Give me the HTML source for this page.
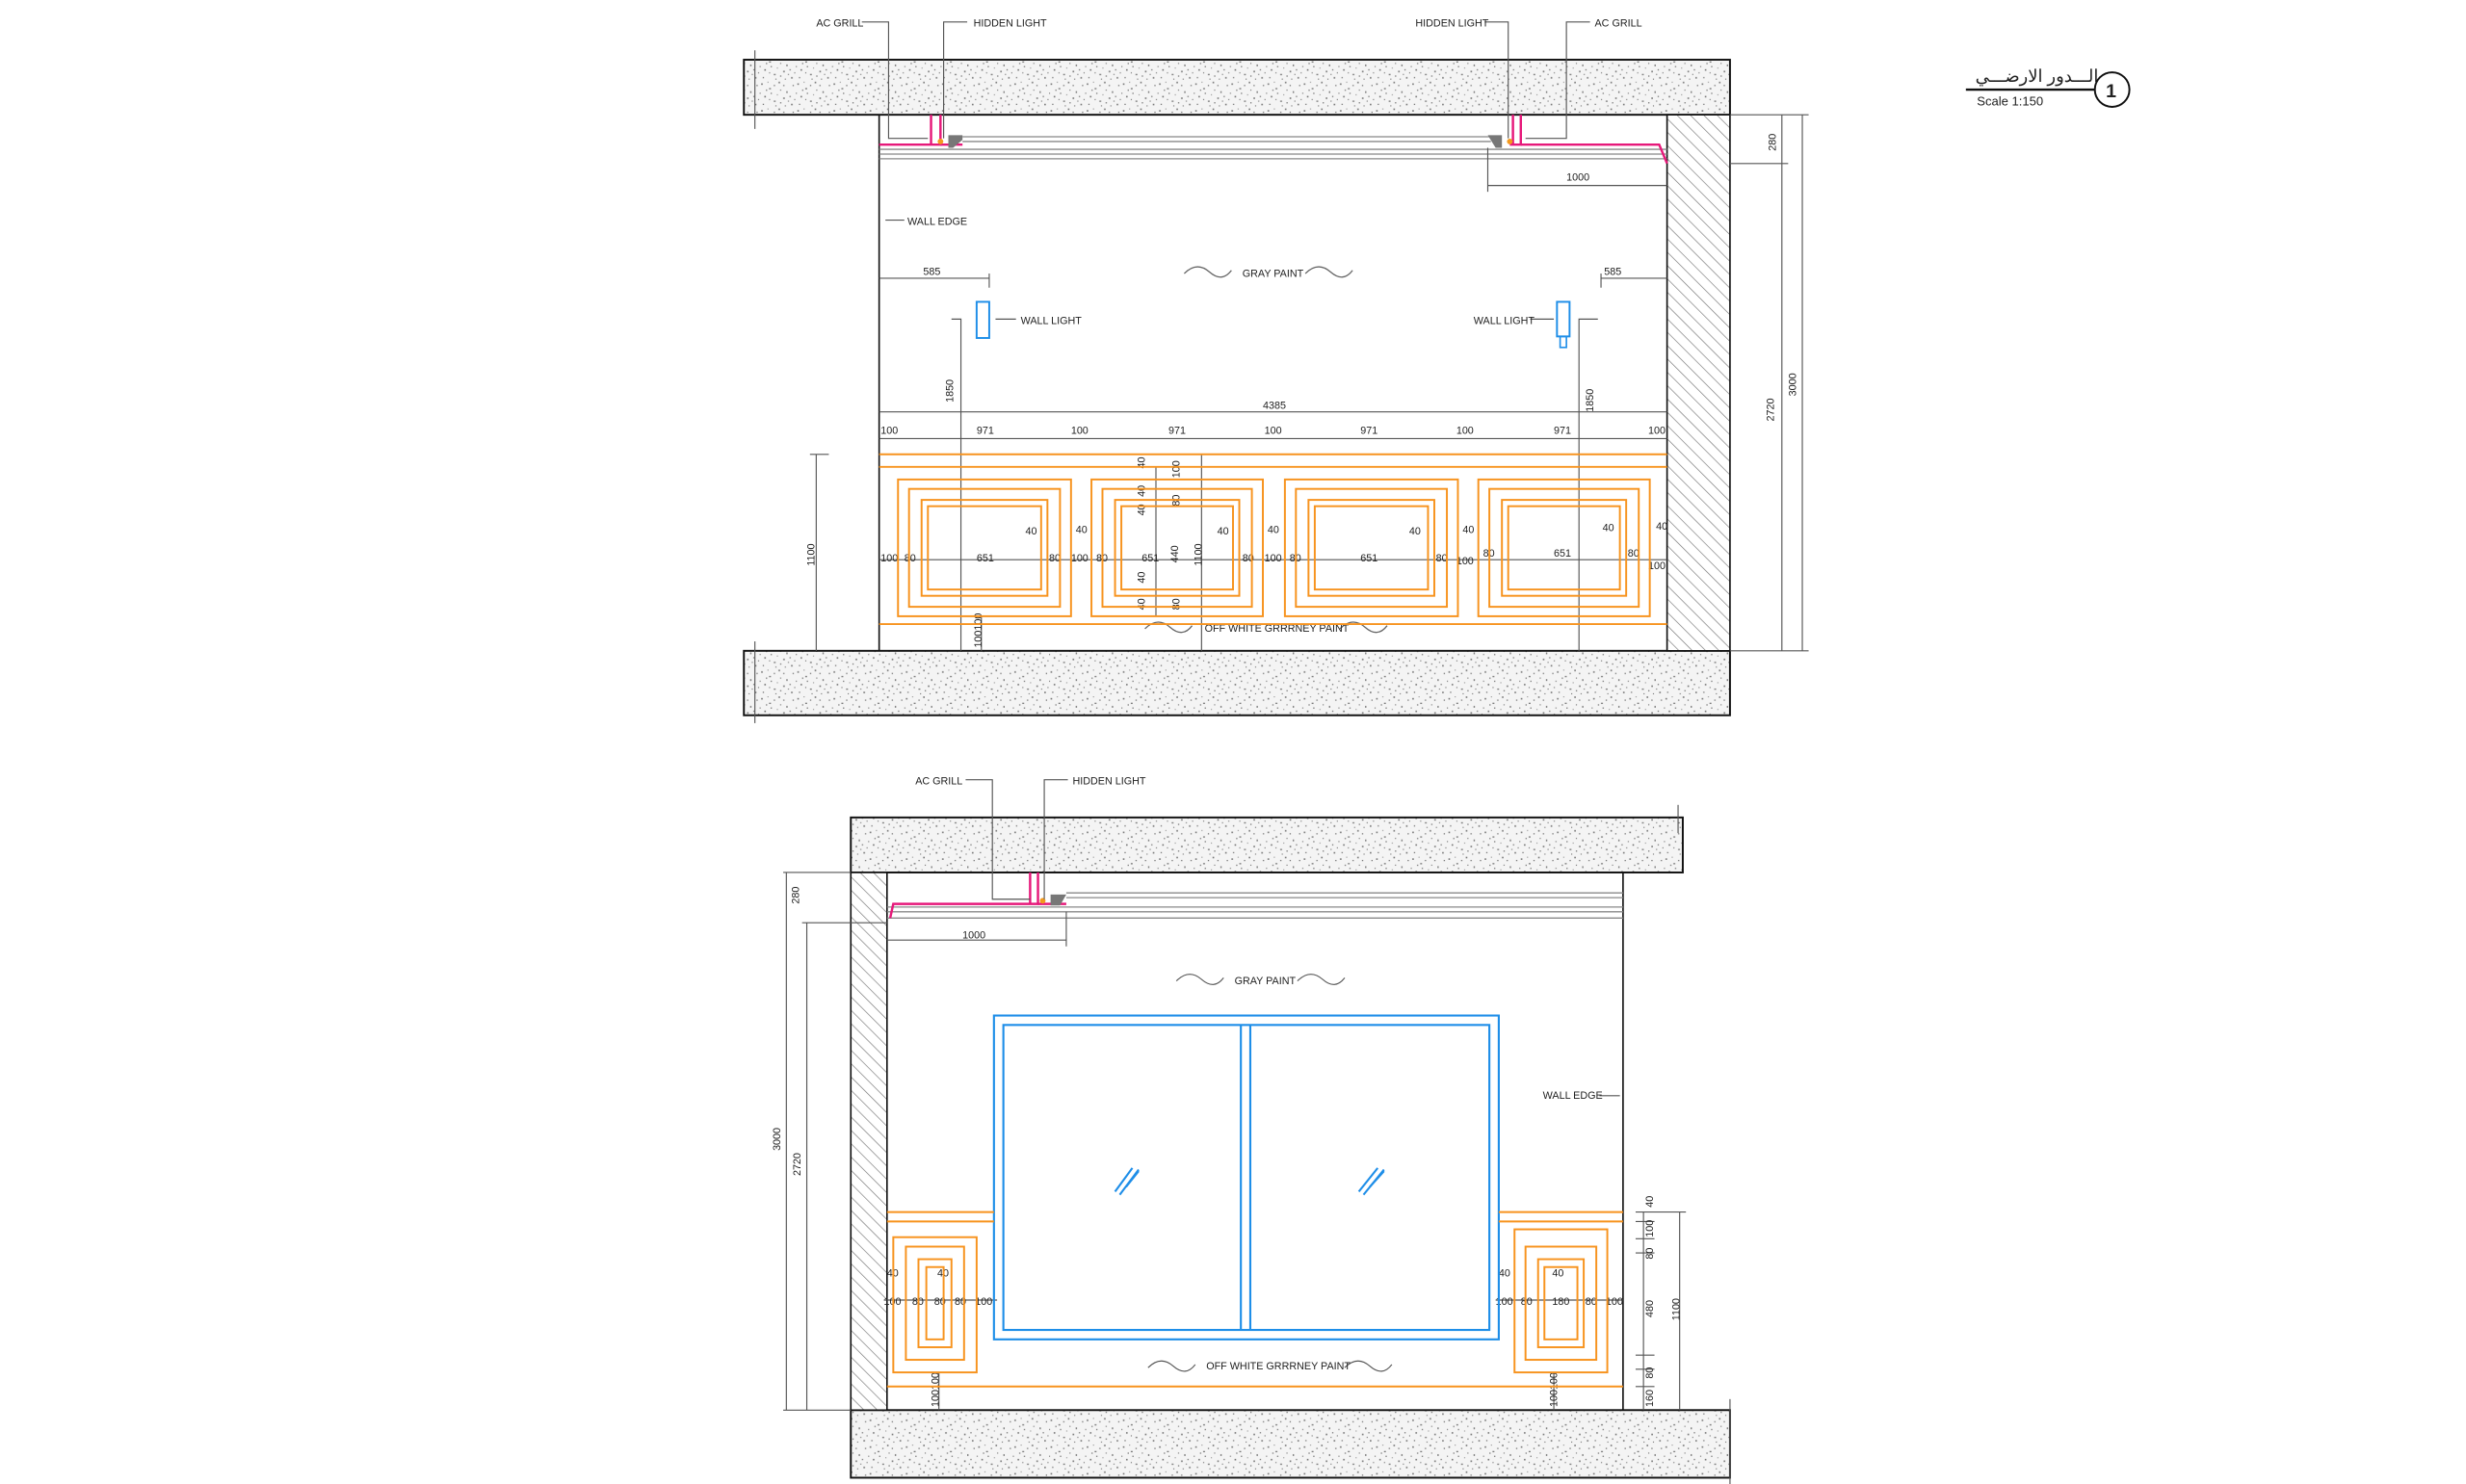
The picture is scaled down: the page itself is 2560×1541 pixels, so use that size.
<!DOCTYPE html>
<html><head><meta charset="utf-8"><style>
html,body{margin:0;padding:0;background:#fff;}
svg{display:block}
text{font-family:"Liberation Sans","Noto Sans CJK SC",sans-serif;fill:#222;font-size:6.6px;}
text.t{font-size:11px;}
text.s{font-size:8px;}
text.n{font-size:12px;font-weight:bold;}
</style></head><body>
<svg width="2560" height="1541" viewBox="0 0 1568 944" preserveAspectRatio="none" xmlns="http://www.w3.org/2000/svg">
<defs>
<pattern id="conc" width="23" height="17" patternUnits="userSpaceOnUse">
<rect width="23" height="17" fill="#f4f4f4"/>
<g fill="#777">
<rect x="1" y="2" width="1" height="1"/><rect x="6" y="5" width="1.2" height="0.8"/><rect x="12" y="1" width="1" height="1"/><rect x="17" y="7" width="0.8" height="1.2"/><rect x="3" y="10" width="1" height="1"/><rect x="9" y="13" width="1.2" height="0.8"/><rect x="15" y="11" width="1" height="1"/><rect x="20" y="15" width="1" height="1"/><rect x="21" y="3" width="0.8" height="0.8"/><rect x="7" y="8" width="0.8" height="0.8"/><rect x="13" y="6" width="0.7" height="0.7"/><rect x="2" y="15" width="0.8" height="0.8"/><rect x="11" y="9" width="0.6" height="0.6"/><rect x="18" y="13" width="0.7" height="0.7"/><rect x="5" y="1" width="0.6" height="0.6"/>
<rect x="9" y="3" width="0.8" height="0.8"/><rect x="15" y="3" width="0.8" height="0.8"/><rect x="19" y="10" width="0.8" height="0.8"/><rect x="4" y="6" width="0.8" height="0.8"/><rect x="0" y="8" width="0.7" height="0.7"/><rect x="13" y="14" width="0.8" height="0.8"/><rect x="6" y="12" width="0.7" height="0.7"/><rect x="16" y="16" width="0.7" height="0.7"/><rect x="22" y="12" width="0.7" height="0.7"/><rect x="10" y="16" width="0.7" height="0.7"/>
</g></pattern>
<pattern id="hatch" width="6" height="6" patternUnits="userSpaceOnUse" patternTransform="rotate(-45)">
<rect width="6" height="6" fill="#fff"/><line x1="0" y1="0" x2="0" y2="6" stroke="#777" stroke-width="0.8"/>
</pattern>
</defs>

<!-- ================= TOP ELEVATION ================= -->
<rect x="473" y="38" width="627" height="35" fill="url(#conc)" stroke="#111" stroke-width="1.2"/>
<rect x="473" y="414" width="627" height="41" fill="url(#conc)" stroke="#111" stroke-width="1.2"/>
<rect x="1060" y="73" width="40" height="341" fill="url(#hatch)" stroke="#111" stroke-width="1"/>
<line x1="559" y1="73" x2="559" y2="414" stroke="#111" stroke-width="1"/>
<g stroke="#888" stroke-width="0.8" fill="none">
<line x1="612" y1="87" x2="948" y2="87"/><line x1="612" y1="90" x2="948" y2="90"/>
<line x1="559" y1="95" x2="1060" y2="95"/><line x1="559" y1="98" x2="1060" y2="98"/><line x1="559" y1="101" x2="1060" y2="101"/>
</g>
<g stroke="#e6197a" stroke-width="1.5" fill="none">
<polyline points="559,92 598,92 598,73"/><line x1="592" y1="73" x2="592" y2="92"/>
<polyline points="612,92 598,92"/>
<polyline points="960,92 967,92 967,73"/><line x1="962" y1="73" x2="962" y2="92"/>
<polyline points="967,92 1055,92 1060,104"/>
</g>
<polygon points="603,86 612,86 612,89 606,94 603,94" fill="#777"/>
<polygon points="946,86 955,86 955,94 951,94" fill="#777"/>
<circle cx="598" cy="90" r="1.8" fill="#f39a1e"/><circle cx="960" cy="90" r="1.8" fill="#f39a1e"/>
<g stroke="#555" stroke-width="0.7" fill="none">
<polyline points="548,14 565,14 565,88 590,88"/>
<polyline points="615,14 600,14 600,88"/>
<polyline points="944,14 959,14 959,88"/>
<polyline points="1011,14 996,14 996,88 970,88"/>
<line x1="946" y1="118" x2="1060" y2="118"/><line x1="946" y1="94" x2="946" y2="122"/>
<line x1="563" y1="140" x2="575" y2="140"/>
</g>
<text x="519" y="17">AC GRILL</text><text x="619" y="17">HIDDEN LIGHT</text>
<text x="900" y="17">HIDDEN LIGHT</text><text x="1014" y="17">AC GRILL</text>
<text x="996" y="115">1000</text>
<text x="577" y="143">WALL EDGE</text>
<text x="790" y="176">GRAY PAINT</text>
<g stroke="#666" stroke-width="0.8" fill="none">
<path d="M753,174 q8,-8 16,-1 q8,7 14,-1"/><path d="M830,174 q8,-8 16,-1 q8,7 14,-1"/>
<path d="M728,400 q8,-8 16,-1 q8,7 14,-1"/><path d="M852,400 q8,-8 16,-1 q8,7 14,-1"/>
</g>
<rect x="621" y="192" width="8" height="23" fill="none" stroke="#1e8ee8" stroke-width="1.2"/>
<rect x="990" y="192" width="8" height="22" fill="none" stroke="#1e8ee8" stroke-width="1.2"/>
<rect x="992" y="214" width="4" height="7" fill="none" stroke="#1e8ee8" stroke-width="1"/>
<g stroke="#555" stroke-width="0.7" fill="none">
<line x1="559" y1="177" x2="629" y2="177"/><line x1="629" y1="174" x2="629" y2="183"/>
<line x1="1018" y1="177" x2="1060" y2="177"/><line x1="1018" y1="174" x2="1018" y2="183"/>
<line x1="633" y1="203" x2="646" y2="203"/><line x1="973" y1="203" x2="988" y2="203"/>
<polyline points="605,203 611,203 611,414"/><polyline points="1016,203 1004,203 1004,414"/>
<line x1="559" y1="262" x2="1060" y2="262"/>
<line x1="559" y1="279" x2="1060" y2="279"/>
<line x1="519" y1="289" x2="519" y2="414"/><line x1="515" y1="289" x2="527" y2="289"/>
<line x1="764" y1="289" x2="764" y2="414"/>
<line x1="735" y1="297" x2="735" y2="392"/>
<line x1="559" y1="356" x2="1060" y2="356"/>
<line x1="624" y1="392" x2="624" y2="414"/>
</g>
<text x="587" y="175">585</text><text x="1020" y="175">585</text>
<text x="649" y="206">WALL LIGHT</text><text x="937" y="206">WALL LIGHT</text>
<text x="803" y="260">4385</text>
<text x="560" y="276">100</text><text x="621" y="276">971</text><text x="681" y="276">100</text><text x="743" y="276">971</text><text x="804" y="276">100</text><text x="865" y="276">971</text><text x="926" y="276">100</text><text x="988" y="276">971</text><text x="1048" y="276">100</text>
<text x="560" y="357">100</text><text x="575" y="357">80</text><text x="621" y="357">651</text><text x="667" y="357">80</text><text x="681" y="357">100</text><text x="697" y="357">80</text><text x="726" y="357">651</text><text x="790" y="357">80</text><text x="804" y="357">100</text><text x="820" y="357">80</text><text x="865" y="357">651</text><text x="913" y="357">80</text><text x="926" y="359">100</text><text x="943" y="354">80</text><text x="988" y="354">651</text><text x="1035" y="354">80</text><text x="1048" y="362">100</text>
<text x="652" y="340">40</text><text x="684" y="339">40</text><text x="774" y="340">40</text><text x="806" y="339">40</text><text x="896" y="340">40</text><text x="930" y="339">40</text><text x="1019" y="338">40</text><text x="1053" y="337">40</text>
<text x="766" y="402">OFF WHITE GRRRNEY PAINT</text>
<text transform="translate(606,256) rotate(-90)">1850</text>
<text transform="translate(1013,262) rotate(-90)">1850</text>
<text transform="translate(518,360) rotate(-90)">1100</text>
<text transform="translate(764,360) rotate(-90)">1100</text>
<text transform="translate(749,358) rotate(-90)">440</text>
<text transform="translate(728,298) rotate(-90)">40</text><text transform="translate(728,316) rotate(-90)">40</text><text transform="translate(728,328) rotate(-90)">40</text>
<text transform="translate(728,388) rotate(-90)">40</text><text transform="translate(728,371) rotate(-90)">40</text>
<text transform="translate(750,304) rotate(-90)">100</text><text transform="translate(750,322) rotate(-90)">80</text><text transform="translate(750,388) rotate(-90)">80</text>
<text transform="translate(624,412) rotate(-90)">100100</text>
<text transform="translate(1129,96) rotate(-90)">280</text>
<text transform="translate(1128,268) rotate(-90)">2720</text>
<text transform="translate(1142,252) rotate(-90)">3000</text>
<g stroke="#555" stroke-width="0.7">
<line x1="1133" y1="73" x2="1133" y2="414"/><line x1="1146" y1="73" x2="1146" y2="414"/>
<line x1="1100" y1="73" x2="1150" y2="73"/><line x1="1100" y1="414" x2="1150" y2="414"/><line x1="1100" y1="104" x2="1137" y2="104"/>
<line x1="480" y1="32" x2="480" y2="82"/><line x1="480" y1="408" x2="480" y2="460"/>
</g>
<g stroke="#f7931e" stroke-width="1.2" fill="none">
<line x1="559" y1="289" x2="1060" y2="289"/><line x1="559" y1="297" x2="1060" y2="297"/><line x1="559" y1="397" x2="1060" y2="397"/>
<rect x="571" y="305" width="110" height="87"/><rect x="578" y="311" width="96" height="75"/><rect x="586" y="318" width="80" height="61"/><rect x="590" y="322" width="72" height="53"/>
<rect x="694" y="305" width="109" height="87"/><rect x="701" y="311" width="95" height="75"/><rect x="709" y="318" width="79" height="61"/><rect x="713" y="322" width="71" height="53"/>
<rect x="817" y="305" width="110" height="87"/><rect x="824" y="311" width="96" height="75"/><rect x="832" y="318" width="80" height="61"/><rect x="836" y="322" width="72" height="53"/>
<rect x="940" y="305" width="109" height="87"/><rect x="947" y="311" width="95" height="75"/><rect x="955" y="318" width="79" height="61"/><rect x="959" y="322" width="71" height="53"/>
</g>

<text class="t" x="1256" y="52">الـــدور الارضـــي</text>
<line x1="1250" y1="57" x2="1332" y2="57" stroke="#111" stroke-width="1.5"/>
<text class="s" x="1257" y="67">Scale 1:150</text>
<circle cx="1343" cy="57" r="11" fill="#fff" stroke="#111" stroke-width="1.2"/>
<text class="n" x="1339" y="62">1</text>

<!-- ================= BOTTOM ELEVATION ================= -->
<rect x="541" y="520" width="529" height="35" fill="url(#conc)" stroke="#111" stroke-width="1.2"/>
<rect x="541" y="897" width="559" height="43" fill="url(#conc)" stroke="#111" stroke-width="1.2"/>
<rect x="541" y="555" width="23" height="342" fill="url(#hatch)" stroke="#111" stroke-width="1"/>
<line x1="1032" y1="555" x2="1032" y2="897" stroke="#111" stroke-width="1"/>
<g stroke="#888" stroke-width="0.8" fill="none">
<line x1="678" y1="568" x2="1032" y2="568"/><line x1="678" y1="571" x2="1032" y2="571"/>
<line x1="564" y1="577" x2="1032" y2="577"/><line x1="564" y1="580" x2="1032" y2="580"/><line x1="564" y1="584" x2="1032" y2="584"/>
</g>
<g stroke="#e6197a" stroke-width="1.5" fill="none">
<polyline points="566,584 568,575 660,575 660,555"/><line x1="655" y1="555" x2="655" y2="575"/><line x1="660" y1="575" x2="678" y2="575"/>
</g>
<polygon points="668,569 678,569 674,576 668,576" fill="#777"/>
<circle cx="663" cy="573" r="1.8" fill="#f39a1e"/>
<g stroke="#555" stroke-width="0.7" fill="none">
<polyline points="614,496 631,496 631,572 655,572"/>
<polyline points="679,496 664,496 664,572"/>
<line x1="564" y1="598" x2="678" y2="598"/><line x1="678" y1="580" x2="678" y2="602"/>
<line x1="1017" y1="697" x2="1030" y2="697"/>
<line x1="498" y1="555" x2="541" y2="555"/><line x1="510" y1="587" x2="564" y2="587"/><line x1="498" y1="897" x2="541" y2="897"/>
<line x1="500" y1="555" x2="500" y2="897"/><line x1="513" y1="587" x2="513" y2="897"/>
<line x1="1067" y1="512" x2="1067" y2="530"/><line x1="1100" y1="890" x2="1100" y2="944"/>
<line x1="1045" y1="771" x2="1045" y2="897"/><line x1="1068" y1="771" x2="1068" y2="897"/><line x1="1040" y1="771" x2="1072" y2="771"/>
<line x1="1040" y1="777" x2="1052" y2="777"/><line x1="1040" y1="788" x2="1052" y2="788"/><line x1="1040" y1="797" x2="1052" y2="797"/><line x1="1040" y1="862" x2="1052" y2="862"/><line x1="1040" y1="871" x2="1052" y2="871"/><line x1="1040" y1="882" x2="1052" y2="882"/>
<line x1="562" y1="827" x2="634" y2="827"/><line x1="951" y1="827" x2="1032" y2="827"/>
<line x1="597" y1="873" x2="597" y2="897"/><line x1="988" y1="873" x2="988" y2="897"/>
<path d="M730,870 q8,-8 16,-1 q8,7 14,-1"/><path d="M855,870 q8,-8 16,-1 q8,7 14,-1"/>
<path d="M748,624 q8,-8 16,-1 q8,7 14,-1"/><path d="M825,624 q8,-8 16,-1 q8,7 14,-1"/>
</g>
<text x="582" y="499">AC GRILL</text><text x="682" y="499">HIDDEN LIGHT</text>
<text x="612" y="597">1000</text>
<text x="785" y="626">GRAY PAINT</text>
<text x="981" y="699">WALL EDGE</text>
<text x="767" y="871">OFF WHITE GRRRNEY PAINT</text>
<text x="562" y="830">100</text><text x="580" y="830">80</text><text x="594" y="830">80</text><text x="607" y="830">80</text><text x="620" y="830">100</text>
<text x="564" y="812">40</text><text x="596" y="812">40</text>
<text x="951" y="830">100</text><text x="967" y="830">80</text><text x="987" y="830">180</text><text x="1008" y="830">80</text><text x="1021" y="830">100</text>
<text x="953" y="812">40</text><text x="987" y="812">40</text>
<text transform="translate(496,732) rotate(-90)">3000</text>
<text transform="translate(509,748) rotate(-90)">2720</text>
<text transform="translate(508,575) rotate(-90)">280</text>
<text transform="translate(1051,768) rotate(-90)">40</text>
<text transform="translate(1051,787) rotate(-90)">100</text>
<text transform="translate(1051,801) rotate(-90)">80</text>
<text transform="translate(1051,838) rotate(-90)">480</text>
<text transform="translate(1051,877) rotate(-90)">80</text>
<text transform="translate(1051,895) rotate(-90)">160</text>
<text transform="translate(1068,840) rotate(-90)">1100</text>
<text transform="translate(597,895) rotate(-90)">100100</text>
<text transform="translate(990,895) rotate(-90)">100100</text>
<g stroke="#1e8ee8" stroke-width="1.3" fill="none">
<rect x="632" y="646" width="321" height="206"/>
<rect x="638" y="652" width="309" height="194"/>
<line x1="789" y1="652" x2="789" y2="846"/><line x1="795" y1="652" x2="795" y2="846"/>
<line x1="709" y1="758" x2="720" y2="743"/><line x1="712" y1="760" x2="724" y2="744"/><line x1="716" y1="755" x2="724" y2="745"/>
<line x1="864" y1="758" x2="876" y2="743"/><line x1="867" y1="760" x2="880" y2="744"/><line x1="871" y1="755" x2="880" y2="745"/>
</g>
<g stroke="#f7931e" stroke-width="1.2" fill="none">
<line x1="564" y1="771" x2="632" y2="771"/><line x1="564" y1="777" x2="632" y2="777"/>
<line x1="953" y1="771" x2="1032" y2="771"/><line x1="953" y1="777" x2="1032" y2="777"/>
<line x1="564" y1="882" x2="1032" y2="882"/>
<rect x="568" y="787" width="53" height="86"/><rect x="576" y="793" width="37" height="72"/><rect x="584" y="801" width="21" height="56"/><rect x="589" y="806" width="11" height="46"/>
<rect x="963" y="782" width="59" height="91"/><rect x="970" y="793" width="45" height="72"/><rect x="978" y="801" width="29" height="56"/><rect x="982" y="806" width="21" height="46"/>
</g>
</svg>
</body></html>
